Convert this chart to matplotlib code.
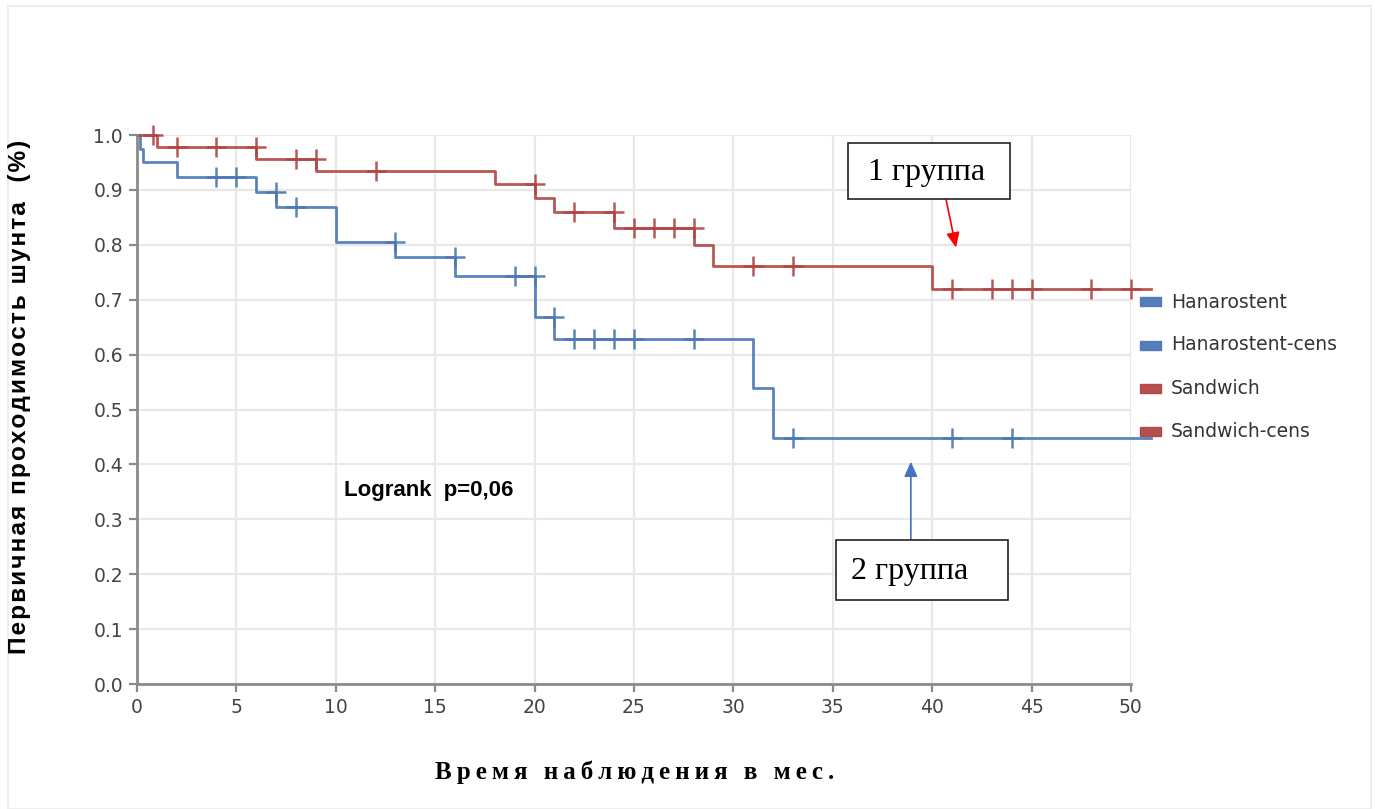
import matplotlib.pyplot as plt
from matplotlib.patches import Rectangle

# Kaplan-Meier steps, months / survival
hana_t = [0, 0.15, 0.3, 2, 6, 7, 10, 13, 16, 20, 21, 31, 32]
hana_s = [1.0, 0.975, 0.950, 0.923, 0.897, 0.868, 0.806, 0.777, 0.743, 0.668, 0.628, 0.540, 0.449]
hana_cens_t = [4, 5, 7, 8, 13, 16, 19, 20, 21, 22, 23, 24, 25, 28, 33, 41, 44]
hana_cens_s = [0.923, 0.923, 0.897, 0.868, 0.806, 0.777, 0.743, 0.743, 0.668,
               0.628, 0.628, 0.628, 0.628, 0.628, 0.449, 0.449, 0.449]

sand_t = [0, 1, 6, 9, 18, 20, 21, 24, 28, 29, 40]
sand_s = [1.0, 0.979, 0.957, 0.935, 0.911, 0.886, 0.859, 0.831, 0.800, 0.762, 0.720]
sand_cens_t = [0.8, 2, 4, 6, 8, 9, 12, 20, 22, 24, 25, 26, 27, 28, 31, 33, 41, 43, 44, 45, 48, 50]
sand_cens_s = [1.0, 0.979, 0.979, 0.979, 0.957, 0.957, 0.935, 0.911, 0.859, 0.859,
               0.831, 0.831, 0.831, 0.831, 0.762, 0.762, 0.720, 0.720, 0.720, 0.720, 0.720, 0.720]
t_end = 51

legend_names = ['Hanarostent', 'Hanarostent-cens', 'Sandwich', 'Sandwich-cens']

blue = '#4a77b4'
red = '#b24543'

fig = plt.figure(figsize=(13.75, 8.09), dpi=100)
ax = fig.add_axes([0.0996, 0.1545, 0.7229, 0.6786])

ax.grid(True, color='#e8e8e8', linewidth=1.6)
ax.set_axisbelow(True)

ax.step(hana_t + [t_end], hana_s + [hana_s[-1]], where='post', color=blue,
        lw=2.0, alpha=0.9, clip_on=False)
ax.plot(hana_cens_t, hana_cens_s, '+', color=blue, ms=15, mew=1.8, alpha=0.9, clip_on=False)
ax.step(sand_t + [t_end], sand_s + [sand_s[-1]], where='post', color=red,
        lw=2.0, alpha=0.9, clip_on=False)
ax.plot(sand_cens_t, sand_cens_s, '+', color=red, ms=15, mew=1.8, alpha=0.9, clip_on=False)

ax.set_xlim(0, 50)
ax.set_ylim(0, 1.0)
ax.set_xticks(range(0, 51, 5))
ax.set_yticks([i / 10 for i in range(11)])
ax.set_yticklabels([f'{i / 10:.1f}' for i in range(11)])
for s in ['top', 'right']:
    ax.spines[s].set_visible(False)
for s in ['left', 'bottom']:
    ax.spines[s].set_color('#8a8a8a')
    ax.spines[s].set_linewidth(2.0)
ax.tick_params(direction='out', length=6, width=1.6, color='#8a8a8a',
               labelcolor='#444444', labelsize=13.5, pad=4)
for lbl in ax.get_xticklabels() + ax.get_yticklabels():
    lbl.set_family('DejaVu Sans')

fig.text(0.014, 0.51, '\u200a'.join('Первичная проходимость шунта  (%)'), rotation=90,
         ha='center', va='center', family=['Liberation Sans', 'DejaVu Sans'],
         weight='bold', fontsize=17.6)
fig.text(0.4615, 0.045, '\u2009'.join('Время наблюдения в мес.'), ha='center', va='center',
         family=['Liberation Serif', 'DejaVu Serif'], weight='bold', fontsize=18)

ax.text(10.4, 0.352, 'Logrank  p=0,06', family='Liberation Sans', weight='bold',
        fontsize=16, va='center', ha='left')

# group labels with arrows
head = '-|>,head_length=0.9,head_width=0.4'
ax.add_patch(Rectangle((35.77, 0.883), 8.13, 0.102, fc='white', ec='#222222',
                       lw=1.2, clip_on=False, zorder=5))
ax.text(39.7, 0.932, '1 группа', ha='center', va='center', family='Liberation Serif',
        fontsize=23, zorder=6)
ax.annotate('', xy=(41.2, 0.795), xytext=(40.7, 0.883),
            arrowprops=dict(arrowstyle=head, color='red', lw=1.2, shrinkA=0, shrinkB=0))

ax.add_patch(Rectangle((35.16, 0.153), 8.65, 0.109, fc='white', ec='#222222',
                       lw=1.2, clip_on=False, zorder=5))
ax.text(38.85, 0.205, '2 группа', ha='center', va='center', family='Liberation Serif',
        fontsize=23, zorder=6)
ax.annotate('', xy=(38.93, 0.405), xytext=(38.93, 0.262),
            arrowprops=dict(arrowstyle=head, color='#4472c4', lw=1.2, shrinkA=0, shrinkB=0))

# legend on the right
leg_colors = [blue, blue, red, red]
leg_y = [302, 345, 388, 431]
W, H = 1375, 809
for name, c, yy in zip(legend_names, leg_colors, leg_y):
    fig.patches.append(Rectangle((1140 / W, 1 - (yy + 4.5) / H), 21 / W, 9 / H,
                                 transform=fig.transFigure, color=c, alpha=0.95))
    fig.text(1171 / W, 1 - yy / H, name, family='DejaVu Sans', fontsize=13.5,
             color='#333333', va='center', ha='left')

fig.patches.append(Rectangle((8 / W, 0), 1363 / W, 1 - 6 / H, transform=fig.transFigure,
                             fill=False, ec='#eeeeee', lw=1.5))

fig.savefig('out.png', dpi=100, facecolor='white')
